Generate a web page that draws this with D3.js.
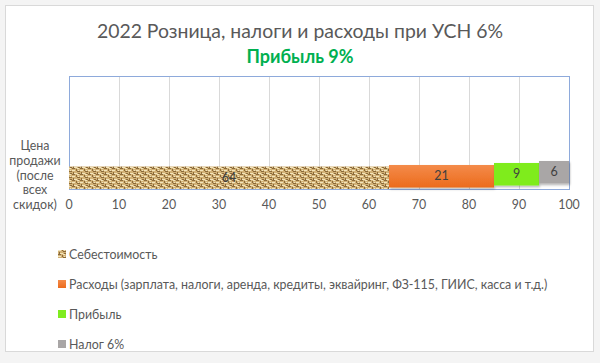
<!DOCTYPE html>
<html>
<head>
<meta charset="utf-8">
<script src="https://cdn.jsdelivr.net/npm/d3@7"></script>
<style>
  body { margin: 0; background: #f4f4f4; }
  text { font-family: Lato, "Open Sans", sans-serif; }
</style>
</head>
<body>
<div id="chart"></div>
<script>
// chart data
var categories = ["Цена продажи (после всех скидок)"];
var seriesNames = [
  "Себестоимость",
  "Расходы (зарплата, налоги, аренда, кредиты, эквайринг, ФЗ-115, ГИИС, касса и т.д.)",
  "Прибыль",
  "Налог 6%"
];
var seriesValues = [64, 21, 9, 6];
var xTicks = [0, 10, 20, 30, 40, 50, 60, 70, 80, 90, 100];

// styling per series
var fills = ["url(#burlap)", "url(#orangeGrad)", "#7fec1f", "#a9a6a6"];
var lift = [0, 1.5, 3.5, 5.5];   // excel 3d-ish offset

var W = 600, H = 363;
var margin = {left: 69, right: 31, top: 76, bottom: 174};

var svg = d3.select("#chart").append("svg")
  .attr("width", W).attr("height", H);

var defs = svg.append("defs");

// burlap texture for the cost series
var pat = defs.append("pattern")
  .attr("id", "burlap")
  .attr("patternUnits", "userSpaceOnUse")
  .attr("width", 8).attr("height", 6);
pat.append("rect").attr("width", 8).attr("height", 6).attr("fill", "#d2b277");
[[0,0,3,1],[4,1,1,2],[5,3,3,1],[1,4,1,2],[6,5,2,1]].forEach(function(r) {
  pat.append("rect").attr("x", r[0]).attr("y", r[1]).attr("width", r[2]).attr("height", r[3])
    .attr("fill", "#8b6a3a");
});
[[0,2,3,1],[5,0,2,1],[2,5,3,1],[6,2,1,1]].forEach(function(r) {
  pat.append("rect").attr("x", r[0]).attr("y", r[1]).attr("width", r[2]).attr("height", r[3])
    .attr("fill", "#f2e4bc");
});

var og = defs.append("linearGradient").attr("id", "orangeGrad")
  .attr("x1", 0).attr("y1", 0).attr("x2", 0).attr("y2", 1);
og.append("stop").attr("offset", "0%").attr("stop-color", "#f48b4a");
og.append("stop").attr("offset", "100%").attr("stop-color", "#ec6b1c");

var shadow = defs.append("filter").attr("id", "shadow")
  .attr("x", "-10%").attr("y", "-20%").attr("width", "130%").attr("height", "160%");
shadow.append("feDropShadow").attr("dx", 1).attr("dy", 1.5).attr("stdDeviation", 1)
  .attr("flood-color", "#000").attr("flood-opacity", 0.3);

// card
svg.append("rect")
  .attr("x", 5.5).attr("y", 5.5).attr("width", 588).attr("height", 346)
  .attr("fill", "#fff").attr("stroke", "#d9d9d9");

svg.append("text")
  .attr("x", 300).attr("y", 38)
  .attr("text-anchor", "middle")
  .attr("font-size", 19.4).attr("fill", "#595959")
  .text("2022 Розница, налоги и расходы при УСН 6%");

svg.append("text")
  .attr("x", 300).attr("y", 63)
  .attr("text-anchor", "middle")
  .attr("font-size", 18).attr("font-weight", "bold").attr("fill", "#00b050")
  .text("Прибыль 9%");

var x = d3.scaleLinear().domain([0, 100]).range([margin.left, W - margin.right]);
var plotBottom = H - margin.bottom; // 189
var y = d3.scaleBand().domain(categories)
  .range([margin.top, plotBottom])
  .paddingInner(0).paddingOuter(2.01).align(1);

// grid
svg.append("g").selectAll("line").data(xTicks).join("line")
  .attr("x1", function(d) { return x(d) + 0.5; })
  .attr("x2", function(d) { return x(d) + 0.5; })
  .attr("y1", margin.top).attr("y2", plotBottom)
  .attr("stroke", "#d9d9d9");

// stack
var stackData = [];
var acc = 0;
seriesValues.forEach(function(v, i) {
  stackData.push({i: i, x0: acc, x1: acc + v, v: v});
  acc += v;
});

svg.append("rect")
  .attr("x", x(0) + 0.5).attr("y", margin.top + 0.5)
  .attr("width", x(100) - x(0)).attr("height", plotBottom - margin.top)
  .attr("fill", "none").attr("stroke", "#8eaadb");

var bars = svg.append("g");
bars.selectAll("rect").data(stackData).join("rect")
  .attr("x", function(d) { return x(d.x0); })
  .attr("y", function(d) { return y(categories[0]) - lift[d.i]; })
  .attr("width", function(d) { return x(d.x1) - x(d.x0); })
  .attr("height", y.bandwidth())
  .attr("fill", function(d) { return fills[d.i]; })
  .attr("filter", function(d) { return d.i > 0 ? "url(#shadow)" : null; });

bars.selectAll("text").data(stackData).join("text")
  .attr("x", function(d) { return (x(d.x0) + x(d.x1)) / 2; })
  .attr("y", function(d) { return y(categories[0]) - lift[d.i] + y.bandwidth() / 2 + 4; })
  .attr("text-anchor", "middle")
  .attr("font-size", 12.5).attr("fill", "#404040")
  .text(function(d) { return d.v; });

// x tick labels
svg.append("g").selectAll("text").data(xTicks).join("text")
  .attr("x", function(d) { return x(d); })
  .attr("y", 209)
  .attr("text-anchor", "middle")
  .attr("font-size", 12.4).attr("fill", "#595959")
  .text(function(d) { return d; });

// category label, wrapped like excel does
var catLines = ["Цена", "продажи", "(после", "всех", "скидок)"];
svg.append("g").selectAll("text").data(catLines).join("text")
  .attr("x", 35)
  .attr("y", function(d, i) { return 150 + i * 14.8; })
  .attr("text-anchor", "middle")
  .attr("font-size", 12.4).attr("fill", "#595959")
  .text(function(d) { return d; });

// legend
var leg = svg.append("g").selectAll("g").data(seriesNames).join("g")
  .attr("transform", function(d, i) { return "translate(58," + (254 + i * 30) + ")"; });
leg.append("rect")
  .attr("x", 0).attr("y", -4).attr("width", 8).attr("height", 8)
  .attr("fill", function(d, i) { return fills[i]; });
leg.append("text")
  .attr("x", 11).attr("y", 4.5)
  .attr("font-size", 12.4).attr("fill", "#595959")
  .text(function(d) { return d; });
</script>
</body>
</html>
